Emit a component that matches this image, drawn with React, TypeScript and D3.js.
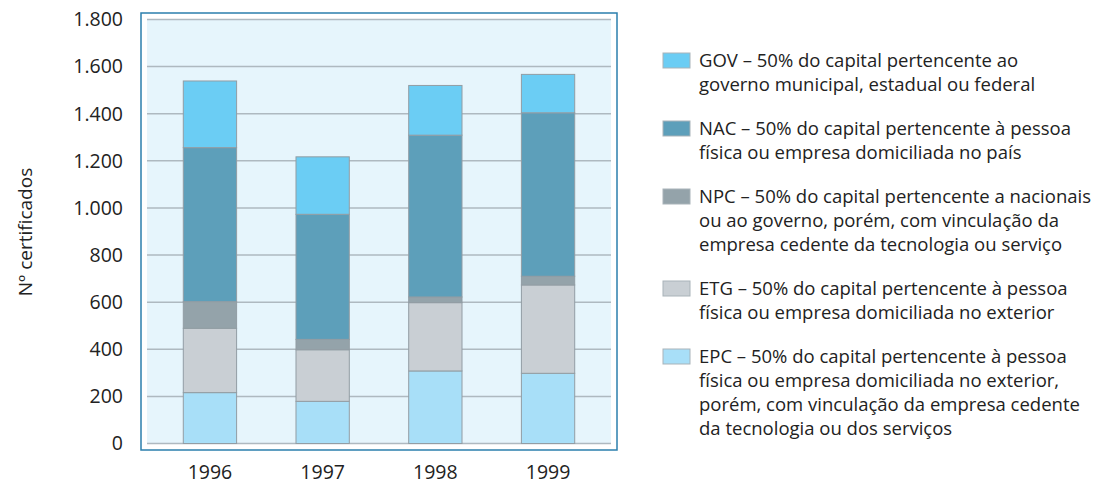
import React, { useEffect, useRef } from "react";
import * as d3 from "d3";

const years = ["1996", "1997", "1998", "1999"];
const seriesKeys = ["EPC", "ETG", "NPC", "NAC", "GOV"];
const EPC = [216, 179, 308, 298];
const ETG = [273, 219, 290, 375];
const NPC = [113, 44, 24, 37];
const NAC = [654, 531, 687, 694];
const GOV = [283, 244, 211, 163];
const yTicks = [0, 200, 400, 600, 800, 1000, 1200, 1400, 1600, 1800];
const yLabel = "Nº certificados";
const legendItems = [
  { key: "GOV", lines: ["GOV – 50% do capital pertencente ao", "governo municipal, estadual ou federal"] },
  { key: "NAC", lines: ["NAC – 50% do capital pertencente à pessoa", "física ou empresa domiciliada no país"] },
  { key: "NPC", lines: ["NPC – 50% do capital pertencente a nacionais", "ou ao governo, porém, com vinculação da", "empresa cedente da tecnologia ou serviço"] },
  { key: "ETG", lines: ["ETG – 50% do capital pertencente à pessoa", "física ou empresa domiciliada no exterior"] },
  { key: "EPC", lines: ["EPC – 50% do capital pertencente à pessoa", "física ou empresa domiciliada no exterior,", "porém, com vinculação da empresa cedente", "da tecnologia ou dos serviços"] },
];
const colors: Record<string, string> = {
  GOV: "#6bcdf4",
  NAC: "#5d9fba",
  NPC: "#94a3aa",
  ETG: "#c9cfd4",
  EPC: "#a8dff8",
};

const FONT = "'Open Sans', 'Noto Sans', sans-serif";

export default function App() {
  const ref = useRef<SVGSVGElement>(null);
  useEffect(() => {
    const svg = d3.select(ref.current);
    svg.selectAll("*").remove();
    const left = 147, right = 611, top = 19.5, bottom = 443.5;
    const x = d3.scaleBand().domain(years).range([left, right]).paddingInner(0.527).paddingOuter(0.322);
    const y = d3.scaleLinear().domain([0, 1800]).range([bottom, top]);

    const data = years.map((yr, i) => ({ year: yr, EPC: EPC[i], ETG: ETG[i], NPC: NPC[i], NAC: NAC[i], GOV: GOV[i] }));
    const stacked = d3.stack<any>().keys(seriesKeys)(data);

    svg.append("rect").attr("x", 141).attr("y", 13).attr("width", 476).attr("height", 437)
      .attr("fill", "#fff").attr("stroke", "#2b7fad").attr("stroke-width", 1.5);
    svg.append("rect").attr("x", left).attr("y", top).attr("width", right - left).attr("height", bottom - top)
      .attr("fill", "#e6f5fc");
    svg.append("g").selectAll("line").data(yTicks).join("line")
      .attr("x1", left).attr("x2", right)
      .attr("y1", (d) => y(d)).attr("y2", (d) => y(d))
      .attr("stroke", "#aeb9c0").attr("stroke-width", 1.5);
    svg.append("g").selectAll("text").data(yTicks).join("text")
      .attr("x", 123).attr("y", (d) => y(d)).attr("dy", "0.35em")
      .attr("text-anchor", "end").attr("font-family", FONT).attr("font-size", 19.5).attr("fill", "#222")
      .text((d) => d3.format(",")(d).replace(/,/g, "."));
    svg.append("text").attr("transform", `translate(32,232) rotate(-90)`)
      .attr("text-anchor", "middle").attr("font-family", FONT).attr("font-size", 19).attr("fill", "#222")
      .text(yLabel);
    svg.append("g").selectAll("g").data(stacked).join("g")
      .attr("fill", (d) => colors[d.key])
      .selectAll("rect").data((d) => d).join("rect")
      .attr("x", (d: any) => x(d.data.year)!)
      .attr("width", x.bandwidth())
      .attr("y", (d) => y(d[1]))
      .attr("height", (d) => y(d[0]) - y(d[1]))
      .attr("stroke", "#929da4").attr("stroke-width", 1);
    svg.append("g").selectAll("text").data(years).join("text")
      .attr("x", (d) => x(d)! + x.bandwidth() / 2).attr("y", 479)
      .attr("text-anchor", "middle").attr("font-family", FONT).attr("font-size", 19.5).attr("fill", "#222")
      .text((d) => d);
    let ly = 53;
    const lg = svg.append("g");
    legendItems.forEach((item) => {
      lg.append("rect").attr("x", 663).attr("y", ly).attr("width", 27).attr("height", 15)
        .attr("fill", colors[item.key]).attr("stroke", "#a9b3b9").attr("stroke-width", 1);
      item.lines.forEach((line, j) => {
        lg.append("text").attr("x", 699).attr("y", ly + 14 + j * 24)
          .attr("font-family", FONT).attr("font-size", 18.5).attr("fill", "#222").text(line);
      });
      ly += item.lines.length * 24 + 20;
    });
  }, []);
  return (
    <svg ref={ref} width={1114} height={485} style={{ position: "absolute", left: 0, top: 0, background: "#fff" }} />
  );
}
